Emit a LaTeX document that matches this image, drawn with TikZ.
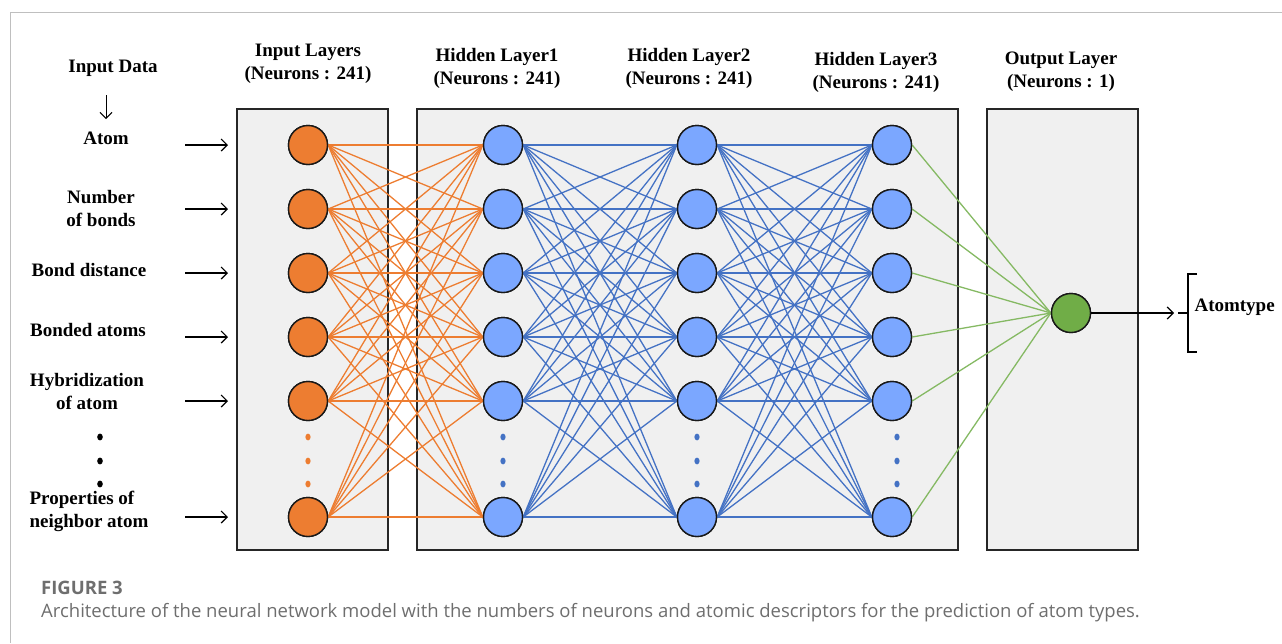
\documentclass[tikz,border=0pt]{standalone}
\usepackage{fontspec}
\setmainfont{Liberation Serif}
\newfontfamily\capfont{Open Sans}
\usetikzlibrary{arrows.meta}

\definecolor{nnorange}{HTML}{ED7D31}
\definecolor{nnblue}{HTML}{7BA7FF}
\definecolor{nnedge}{HTML}{4472C4}
\definecolor{nngreen}{HTML}{70AD47}
\definecolor{nnfill}{HTML}{F0F0F0}
\definecolor{capgray}{HTML}{6E6E6E}

\begin{document}
\begin{tikzpicture}[
  x=1pt, y=-1pt,
  font=\fontsize{19}{23}\selectfont\bfseries,
  layer/.style  = {draw=black!85, line width=1.4pt, fill=nnfill},
  neuron/.style = {circle, draw=black!90, line width=1.4pt,
                   minimum size=39pt, inner sep=0pt},
  inN/.style    = {neuron, fill=nnorange},
  hidN/.style   = {neuron, fill=nnblue},
  outN/.style   = {neuron, fill=nngreen},
  title/.style  = {align=center},
  feat/.style   = {align=center},
  wire/.style   = {line width=1.3pt},
  feed/.style   = {-{Straight Barb[length=6pt,width=12pt]}, line width=1.2pt},
  capt/.style   = {anchor=west, inner sep=0pt,
                   font=\capfont\fontsize{18.5}{22}\selectfont, text=capgray},
]

\useasboundingbox (0,0) rectangle (1282,643);

%% ==== page frame =========================================================
\draw[black!25, line width=1pt] (10,643) -- (10,12) -- (1282,12);

%% ==== layer boxes ========================================================
\draw[layer] (237,109) rectangle (388,550);
\draw[layer] (417,109) rectangle (958,550);
\draw[layer] (987,109) rectangle (1138,550);

%% ==== layer titles =======================================================
\node[title] (tin)  at (308,64)  {Input Layers\\(Neurons : 241)};
\node[title] (th1)  at (497,68)  {Hidden Layer1\\(Neurons : 241)};
\node[title] (th2)  at (689,68)  {Hidden Layer2\\(Neurons : 241)};
\node[title] (th3)  at (876,72)  {Hidden Layer3\\(Neurons : 241)};
\node[title] (tout) at (1061,72) {Output Layer\\(Neurons : 1)};

%% ==== neurons, one column per layer ======================================
\foreach \n/\y in {1/145,2/209,3/273,4/337,5/401,6/517} {
  \node[inN]  (i\n) at (308,\y) {};
  \node[hidN] (a\n) at (503,\y) {};
  \node[hidN] (b\n) at (697,\y) {};
  \node[hidN] (c\n) at (892,\y) {};
}
\node[outN] (out) at (1071,313) {};

%% ==== weights, every neuron to every neuron of the next layer ============
\foreach \s in {1,...,6} {
  \foreach \t in {1,...,6} {
    \draw[wire, nnorange] (i\s.east) -- (a\t.west);
    \draw[wire, nnedge]   (a\s.east) -- (b\t.west);
    \draw[wire, nnedge]   (b\s.east) -- (c\t.west);
  }
  \draw[wire, nngreen!85!white] (c\s.east) -- (out.west);
}

%% ==== neurons drawn again on top of the weights ==========================
\foreach \n/\y in {1/145,2/209,3/273,4/337,5/401,6/517} {
  \node[inN]  at (308,\y) {};
  \node[hidN] at (503,\y) {};
  \node[hidN] at (697,\y) {};
  \node[hidN] at (892,\y) {};
}
\node[outN] at (1071,313) {};

%% ==== ellipsis dots ======================================================
\foreach \y in {437,461,484} {
  \fill[nnorange] (308,\y) ellipse (2.6 and 3.4);
  \fill[nnedge]   (503,\y) ellipse (2.6 and 3.4);
  \fill[nnedge]   (697,\y) ellipse (2.6 and 3.4);
  \fill[nnedge]   (897,\y) ellipse (2.6 and 3.4);
  \fill[black]    (100,\y) ellipse (2.8 and 3.4);
}

%% ==== input descriptors ==================================================
\node (data) at (113,68) {Input Data};
\node[feat] (f1) at (106,138) {Atom};
\node[feat] (f2) at (101,208) {Number\\of bonds};
\node[feat] (f3) at (89,270)  {Bond distance};
\node[feat] (f4) at (88,330)  {Bonded atoms};
\node[feat] (f5) at (87,391)  {Hybridization\\of atom};
\node[align=left] (f6) at (89,511) {Properties of\\neighbor atom};
\draw[feed, line width=1pt] (106,95) -- (106,119);

\foreach \n in {1,...,6}
  \draw[feed] ([xshift=-123pt]i\n.center) -- ([xshift=-80pt]i\n.center);

%% ==== prediction =========================================================
\node[anchor=west] (atype) at (1191,307) {Atomtype};
\coordinate (brk) at (1174,313);
\draw[feed] (out.east) -- (brk);
\draw[line width=1.2pt] (1178,313) -- (1188,313);
\draw[line width=1.2pt] (1197,274) -- (1188,274) -- (1188,352) -- (1197,352);

%% ==== caption ============================================================
\node[capt, font=\capfont\bfseries\fontsize{18.5}{22}\selectfont]
  (fig) at (41,588) {FIGURE 3};
\node[capt] (cap) at (41,613) {Architecture of the neural network model with
  the numbers of neurons and atomic descriptors for the prediction of atom
  types.};

\end{tikzpicture}
\end{document}
